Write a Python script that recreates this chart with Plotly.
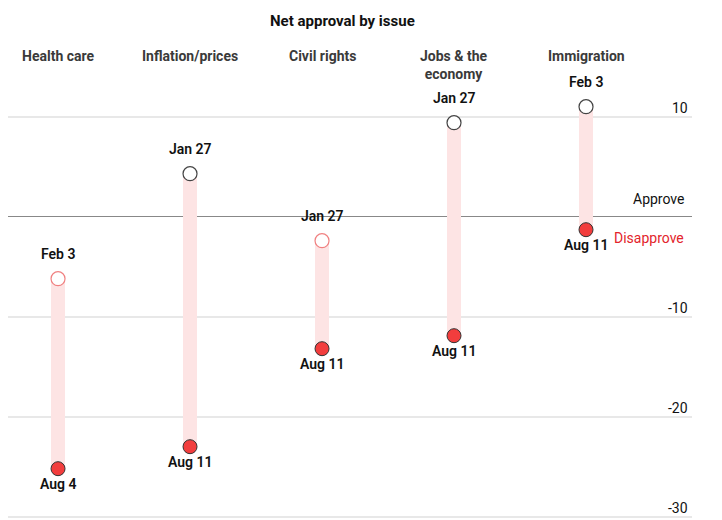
import plotly.graph_objects as go

categories = ["Health care", "Inflation/prices", "Civil rights", "Jobs & the<br>economy", "Immigration"]
start_labels = ["Feb 3", "Jan 27", "Jan 27", "Jan 27", "Feb 3"]
end_labels = ["Aug 4", "Aug 11", "Aug 11", "Aug 11", "Aug 11"]
start_values = [-6.2, 4.3, -2.4, 9.4, 11.0]
end_values = [-25.2, -23.0, -13.2, -11.9, -1.3]
tick_vals = [10, -10, -20, -30]
tick_text = ["10", "-10", "-20", "-30"]

FONT = "Roboto"
RED = "#f23d3d"
PINK = "#fde4e4"

x = list(range(len(categories)))
fig = go.Figure()

fig.add_trace(go.Bar(
    x=x, base=end_values,
    y=[s - e for s, e in zip(start_values, end_values)],
    width=0.106, marker=dict(color=PINK, line=dict(width=0)),
    hoverinfo="skip", showlegend=False))

fig.add_trace(go.Scatter(
    x=x, y=start_values, mode="markers",
    marker=dict(size=14, color="white",
                line=dict(width=1.2, color=["#f08080" if v < 0 else "#444" for v in start_values])),
    showlegend=False))

fig.add_trace(go.Scatter(
    x=x, y=end_values, mode="markers",
    marker=dict(size=14, color=RED, line=dict(width=1, color="#333")),
    showlegend=False))

annotations = []
for i, c in enumerate(categories):
    annotations.append(dict(x=i, y=17.07, xref="x", yref="y", text="<b>%s</b>" % c,
                            showarrow=False, yanchor="top",
                            font=dict(family=FONT, size=14, color="#3a3a3a")))
    annotations.append(dict(x=i, y=start_values[i], xref="x", yref="y", text=start_labels[i],
                            showarrow=False, yanchor="middle", yshift=25,
                            font=dict(family=FONT, size=14, color="#111", weight=600)))
    annotations.append(dict(x=i, y=end_values[i], xref="x", yref="y", text=end_labels[i],
                            showarrow=False, yanchor="middle", yshift=-15,
                            font=dict(family=FONT, size=14, color="#111", weight=600)))

for v, t in zip(tick_vals, tick_text):
    annotations.append(dict(x=682 / 684, y=v, xref="paper", yref="y", text=t,
                            showarrow=False, xanchor="right", yanchor="middle", yshift=9,
                            font=dict(family=FONT, size=14, color="#111")))

annotations.append(dict(x=334 / 684, y=1 - 2 / 520, xref="paper", yref="paper",
                        text="<b>Net approval by issue</b>", showarrow=False,
                        yanchor="top", font=dict(family=FONT, size=15, color="#111")))
annotations.append(dict(x=678 / 684, y=0, xref="paper", yref="y", text="Approve",
                        showarrow=False, xanchor="right", yanchor="middle", yshift=18,
                        font=dict(family=FONT, size=14, color="#111")))
annotations.append(dict(x=678 / 684, y=0, xref="paper", yref="y", text="Disapprove",
                        showarrow=False, xanchor="right", yanchor="middle", yshift=-21,
                        font=dict(family=FONT, size=14, color="#e3242b")))

fig.update_layout(
    width=722, height=520,
    margin=dict(l=0, r=38, t=0, b=0),
    paper_bgcolor="white", plot_bgcolor="white",
    barmode="overlay",
    xaxis=dict(range=[-0.379, 4.803], showgrid=False, zeroline=False,
               showticklabels=False, fixedrange=True),
    yaxis=dict(range=[-31.13, 20.87], side="right", tickvals=tick_vals,
               showticklabels=False, showgrid=True, gridcolor="#e8e8e8",
               gridwidth=1.5, zeroline=True, zerolinecolor="#888", zerolinewidth=1.3,
               ticks="", fixedrange=True),
    annotations=annotations,
    font=dict(family=FONT),
)

fig.write_html("out.html")
